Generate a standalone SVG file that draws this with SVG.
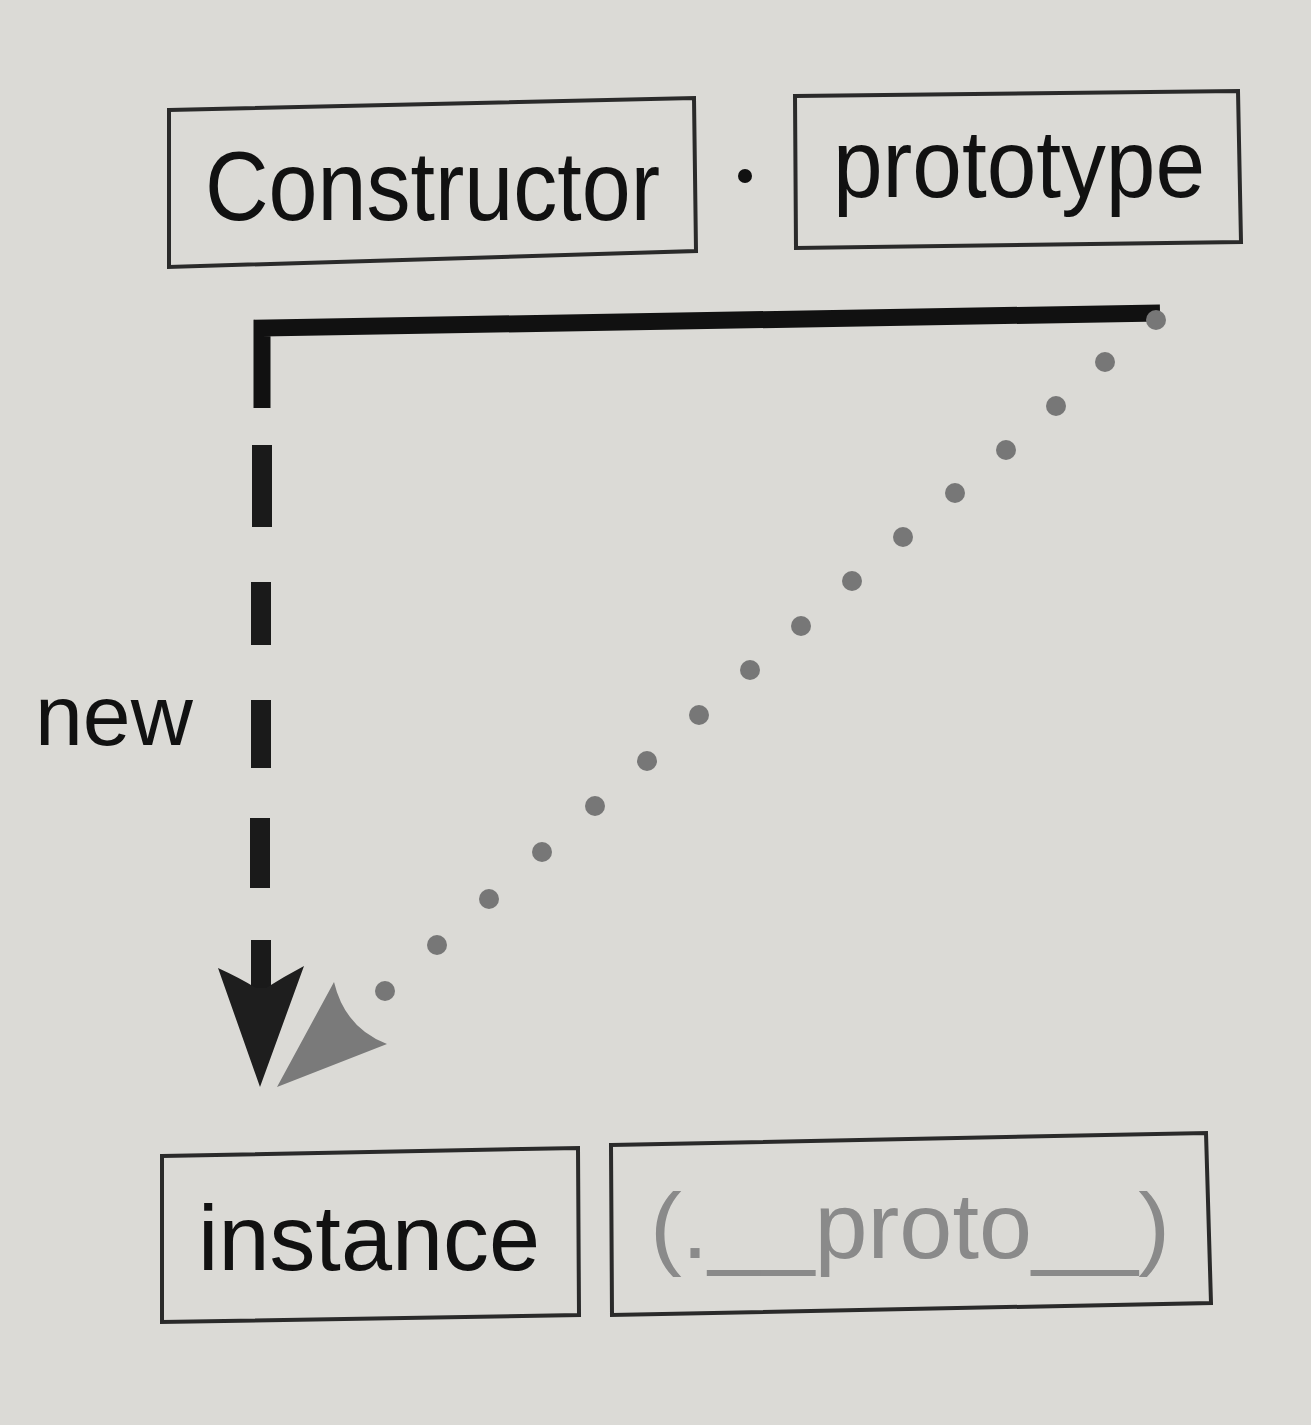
<svg xmlns="http://www.w3.org/2000/svg" width="1311" height="1425" viewBox="0 0 1311 1425">
<style>
.box{fill:none;stroke:#2a2a2a;stroke-width:4}
.t{font-family:"Liberation Sans",Arial,sans-serif;fill:#111}
.dot{fill:#777}
</style>
<rect x="0" y="0" width="1311" height="1425" fill="#dbdad6"/>
<g id="constructor">
<polygon class="box" points="169,110 694,98 696,251 169,267"/>
<text class="t" x="205" y="220" font-size="98" textLength="455" lengthAdjust="spacingAndGlyphs">Constructor</text>
</g>
<g id="dot-sep"><circle cx="745" cy="176" r="7" fill="#111"/></g>
<g id="prototype">
<polygon class="box" points="795,96 1238,91 1241,242 796,248"/>
<text class="t" x="833" y="197" font-size="96" textLength="372" lengthAdjust="spacingAndGlyphs">prototype</text>
</g>
<g id="instance">
<polygon class="box" points="162,1156 578,1148 579,1315 162,1322"/>
<text class="t" x="198" y="1270" font-size="92" textLength="342" lengthAdjust="spacingAndGlyphs">instance</text>
</g>
<g id="proto">
<polygon class="box" points="611,1145 1206,1133 1211,1303 612,1315"/>
<text class="t" x="650" y="1258" font-size="92" style="fill:#8a8a8a" textLength="520" lengthAdjust="spacingAndGlyphs">(.__proto__)</text>
</g>
<g id="label-new">
<text class="t" x="35" y="745" font-size="86">new</text>
</g>
<g id="connectors">
<path d="M262,408 L262,328 L1160,313" fill="none" stroke="#111" stroke-width="17" stroke-linejoin="miter"/>
<g stroke="#1a1a1a" stroke-width="20">
<line x1="262" y1="445" x2="262" y2="527"/>
<line x1="261" y1="582" x2="261" y2="645"/>
<line x1="261" y1="700" x2="261" y2="768"/>
<line x1="260" y1="818" x2="260" y2="888"/>
<line x1="261" y1="940" x2="261" y2="990"/>
</g>
<path d="M260,1087 L218,968 Q240,978 256,988 L266,988 Q285,976 304,966 Z" fill="#1e1e1e"/>
<g class="dot">
<circle cx="1156" cy="320" r="10"/>
<circle cx="1105" cy="362" r="10"/>
<circle cx="1056" cy="406" r="10"/>
<circle cx="1006" cy="450" r="10"/>
<circle cx="955" cy="493" r="10"/>
<circle cx="903" cy="537" r="10"/>
<circle cx="852" cy="581" r="10"/>
<circle cx="801" cy="626" r="10"/>
<circle cx="750" cy="670" r="10"/>
<circle cx="699" cy="715" r="10"/>
<circle cx="647" cy="761" r="10"/>
<circle cx="595" cy="806" r="10"/>
<circle cx="542" cy="852" r="10"/>
<circle cx="489" cy="899" r="10"/>
<circle cx="437" cy="945" r="10"/>
<circle cx="385" cy="991" r="10"/>
</g>
<path d="M277,1087 L334,982 Q345,1028 387,1044 Z" fill="#7a7a7a"/>
</g>
</svg>
